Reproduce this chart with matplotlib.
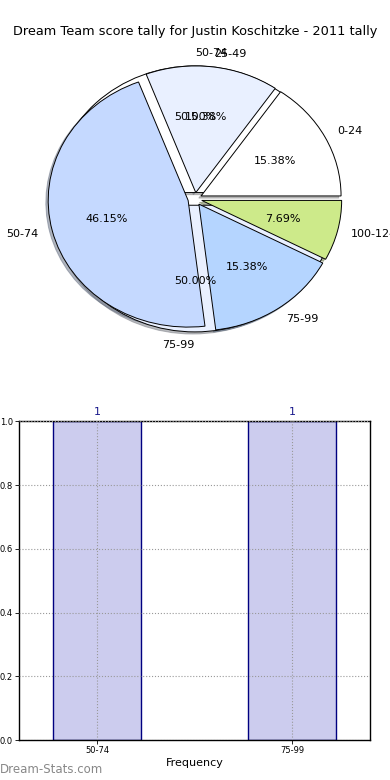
"""
Dream Team score tally chart: pie of score bands plus a frequency bar chart.
"""
import matplotlib
matplotlib.use("Agg")
import matplotlib.pyplot as plt

# Pie 1: season score bands
bands = ["0-24", "25-49", "50-74", "75-99", "100-124"]
band_counts = [2, 2, 6, 2, 1]
band_colors = ["#ffffff", "#e9f0ff", "#c5d9ff", "#b5d5ff", "#cdea8a"]

# Pie 2 / bars: bands hit this tally
freq_bands = ["50-74", "75-99"]
freq_counts = [1, 1]
freq_colors = ["#ffffff", "#e9f0ff"]

title = "Dream Team score tally for Justin Koschitzke - 2011 tally"

fig = plt.figure(figsize=(3.9, 7.8), dpi=100)

# Pie axes (not forced circular, like the original)
ax_pie = fig.add_axes([0.0513, 0.542, 0.897, 0.406])
wedge_style = {"edgecolor": "black", "linewidth": 0.7}
shadow_style = {"ox": -0.012, "oy": -0.012, "shade": 0.5}
_, labels2, _ = ax_pie.pie(freq_counts, labels=freq_bands, colors=freq_colors,
                           explode=[0.05] * len(freq_counts), autopct="%1.2f%%",
                           shadow=shadow_style, wedgeprops=wedge_style,
                           textprops={"fontsize": 8})
# old matplotlib aligned these on the sign of cos(90/270 deg)
labels2[0].set_ha("left")
labels2[1].set_ha("right")
ax_pie.pie(band_counts, labels=bands, colors=band_colors,
           explode=[0.05] * len(band_counts), autopct="%1.2f%%",
           shadow=shadow_style, wedgeprops=wedge_style,
           textprops={"fontsize": 8})
ax_pie.set_aspect("auto")
ax_pie.set_xlim(-1.25, 1.25)
ax_pie.set_ylim(-1.25, 1.25)
ax_pie.set_title(title, fontsize=9.3, pad=4)

# Frequency bar chart
ax_bar = fig.add_axes([0.049, 0.051, 0.9, 0.409])
x = list(range(len(freq_bands)))
bars = ax_bar.bar(x, freq_counts, width=0.45, color="#ccccee",
                  edgecolor="#000080", linewidth=1.0, zorder=2)
for b, v in zip(bars, freq_counts):
    ax_bar.text(b.get_x() + b.get_width() / 2, v + 0.012, str(v),
                ha="center", va="bottom", fontsize=8, color="#1a1a8c")
ax_bar.set_xlim(-0.4, 1.4)
ax_bar.set_ylim(0, 1.0)
ax_bar.set_xticks(x)
ax_bar.set_xticklabels(freq_bands)
ax_bar.set_yticks([0.0, 0.2, 0.4, 0.6, 0.8, 1.0])
ax_bar.set_yticklabels(["0.0", "0.2", "0.4", "0.6", "0.8", "1.0"])
ax_bar.tick_params(labelsize=6, length=3, width=0.6, direction="out", pad=1.5)
ax_bar.grid(True, linestyle=":", color="#999999", linewidth=0.8, zorder=3)
ax_bar.set_axisbelow(False)
ax_bar.set_xlabel("Frequency", fontsize=8, labelpad=2)
for s in ax_bar.spines.values():
    s.set_linewidth(1.0)

fig.text(0.0, 0.013, "Dream-Stats.com", fontsize=8.5, color="#888888",
         ha="left", va="center")

fig.savefig("out.png", dpi=100)
